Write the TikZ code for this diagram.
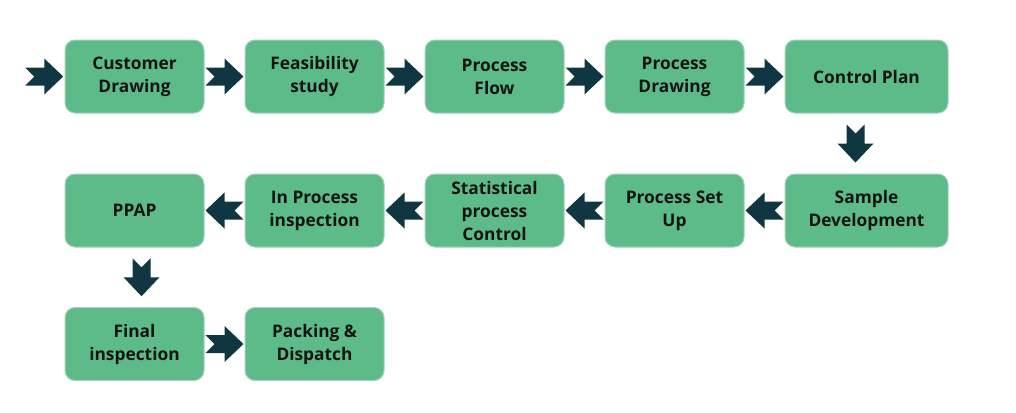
\documentclass[tikz,border=0pt]{standalone}
\usepackage{fontspec}
\setmainfont{Open Sans}
\usetikzlibrary{calc}

\definecolor{boxgreen}{RGB}{92,187,137}
\definecolor{boxedge}{RGB}{168,208,186}
\definecolor{arrowteal}{RGB}{16,54,65}
\definecolor{textdark}{RGB}{20,20,20}

\tikzset{every picture/.style={line width=0.75pt}}
\tikzset{
  stepbox/.style={draw=boxedge, fill=boxgreen, rounded corners=7.5pt, minimum width=104.25pt, minimum height=54.75pt, align=center, text=textdark, font=\fontsize{13}{17.25}\selectfont\bfseries, inner sep=0pt},
  widebox/.style={stepbox, minimum width=122.25pt},
  blockarrow/.pic={\fill[arrowteal] (-19,-9) -- (0,-9) -- (0,-18) -- (19,0) -- (0,18) -- (0,9) -- (-19,9) -- (-10,0) -- cycle ;}
}

\begin{document}
\begin{tikzpicture}[x=0.75pt,y=0.75pt,yscale=-1,xscale=1]
		\useasboundingbox (0,0) rectangle (1016,412); %set diagram to the size of the page

		%Shape: Rounded Rect, first row
		\node[stepbox] (cd) at (134.5,76.5) {Customer\\Drawing};
		\node[stepbox] (fs) at (314.5,76.5) {Feasibility\\study};
		\node[stepbox] (pf) at (494.5,76.5) {Process\\Flow};
		\node[stepbox] (pd) at (674.5,76.5) {Process\\Drawing};
		\node[widebox] (cp) at (866.5,76.5) {Control Plan};
		%Shape: Rounded Rect, second row
		\node[stepbox] (ppap) at (134.5,210.5) {PPAP};
		\node[stepbox] (ipi) at (314.5,210.5) {In Process\\inspection};
		\node[stepbox] (spc) at (494.5,210.5) {Statistical\\process\\Control};
		\node[stepbox] (psu) at (674.5,210.5) {Process Set\\Up};
		\node[widebox] (sd) at (866.5,210.5) {Sample\\Development};
		%Shape: Rounded Rect, third row
		\node[stepbox] (fi) at (134.5,344) {Final\\inspection};
		\node[stepbox] (pack) at (314.5,344) {Packing \&\\Dispatch};

		%Block Arrows
		\coordinate (start) at (24,76.5);
		\pic at ($(start)!0.5!(cd.west)$) {blockarrow};
		\pic at ($(cd.east)!0.5!(fs.west)$) {blockarrow};
		\pic at ($(fs.east)!0.5!(pf.west)$) {blockarrow};
		\pic at ($(pf.east)!0.5!(pd.west)$) {blockarrow};
		\pic at ($(pd.east)!0.5!(cp.west)$) {blockarrow};
		\pic[rotate=-90] at ($(cp.south)!0.5!(sd.north)+(-11,0)$) {blockarrow};
		\pic[rotate=180] at ($(sd.west)!0.5!(psu.east)$) {blockarrow};
		\pic[rotate=180] at ($(psu.west)!0.5!(spc.east)$) {blockarrow};
		\pic[rotate=180] at ($(spc.west)!0.5!(ipi.east)$) {blockarrow};
		\pic[rotate=180] at ($(ipi.west)!0.5!(ppap.east)$) {blockarrow};
		\pic[rotate=-90] at ($(ppap.south)!0.5!(fi.north)+(7,0)$) {blockarrow};
		\pic at ($(fi.east)!0.5!(pack.west)$) {blockarrow};

		\end{tikzpicture}
\end{document}
